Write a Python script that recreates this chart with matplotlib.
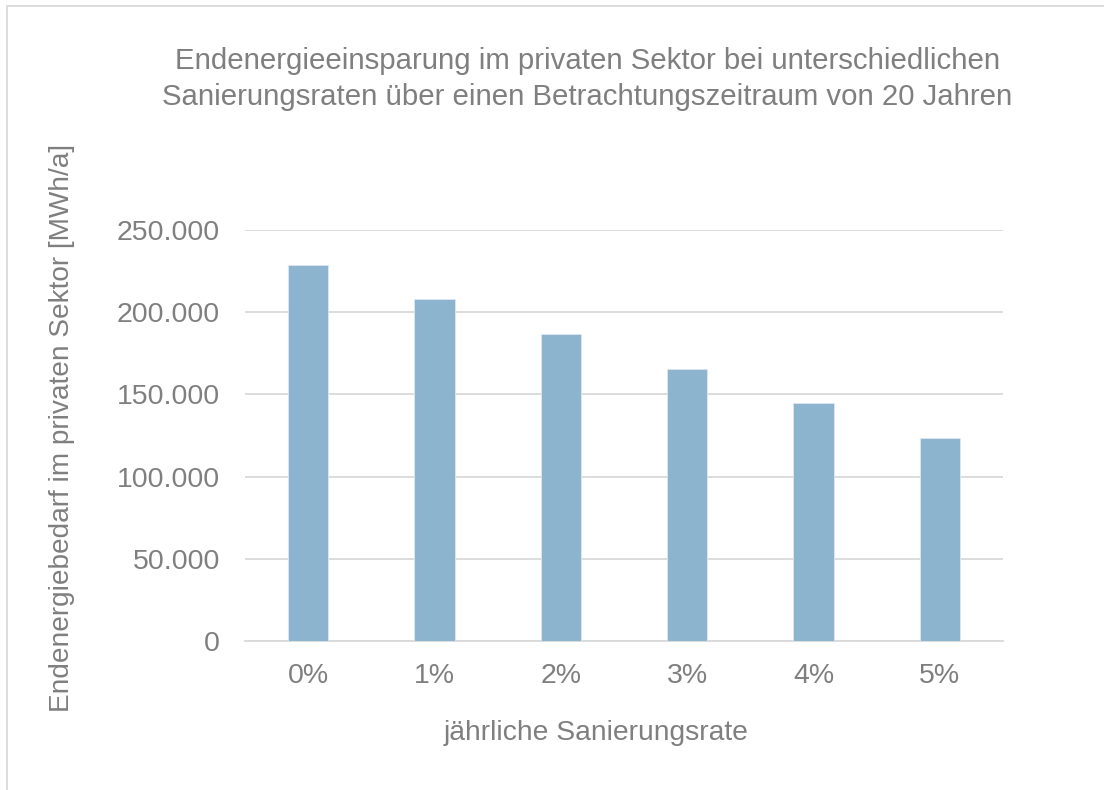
import matplotlib
matplotlib.use('Agg')
import matplotlib.pyplot as plt
from matplotlib.ticker import FuncFormatter

plt.rcParams['font.family'] = ['Liberation Sans', 'DejaVu Sans']

# Daten: Sanierungsrate vs. Endenergiebedarf
raten = ['0%', '1%', '2%', '3%', '4%', '5%']
bedarf = [228700, 207800, 186700, 165600, 144700, 123600]

grau = '#7f7f7f'
balken = '#8db4cf'

fig = plt.figure(figsize=(11.04, 7.9), dpi=100)
ax = fig.add_axes([0.2219, 0.1886, 0.6866, 0.5203])

ax.bar(range(len(raten)), bedarf, width=0.32, color=balken, edgecolor='#dce8f2', linewidth=0.6, zorder=3)

ax.set_xlim(-0.5, len(raten) - 0.5)
ax.set_ylim(0, 250000)
ax.set_yticks(range(0, 250001, 50000))
ax.yaxis.set_major_formatter(FuncFormatter(lambda v, p: f'{int(v):,}'.replace(',', '.')))
ax.set_xticks(range(len(raten)))
ax.set_xticklabels(raten)

ax.grid(axis='y', color='#d9d9d9', linewidth=1.3, zorder=0)
for s in ['top', 'right', 'left']:
    ax.spines[s].set_visible(False)
ax.spines['bottom'].set_color('#d9d9d9')
ax.spines['bottom'].set_linewidth(1.3)
ax.tick_params(axis='both', length=0, labelsize=20.5, labelcolor=grau)
ax.tick_params(axis='x', pad=15.5)
ax.tick_params(axis='y', pad=18)

ax.set_xlabel('jährliche Sanierungsrate', fontsize=20.3, color=grau)
ax.xaxis.set_label_coords(0.463, -0.192)
ax.set_ylabel('Endenergiebedarf im privaten Sektor [MWh/a]', fontsize=20.2, color=grau)
ax.yaxis.set_label_coords(-0.224, 0.519)

fig.text(0.532, 0.941, 'Endenergieeinsparung im privaten Sektor bei unterschiedlichen\n'
         'Sanierungsraten über einen Betrachtungszeitraum von 20 Jahren',
         ha='center', va='top', fontsize=21.2, color=grau, linespacing=1.4)

# Rahmen um das Diagramm
fig.patches.append(plt.Rectangle((7 / 1104, -0.01), 1.1, 1 - 6 / 790 + 0.01, transform=fig.transFigure,
                                 fill=False, edgecolor='#d9d9d9', linewidth=1.3))

fig.savefig('out.png', dpi=100)
